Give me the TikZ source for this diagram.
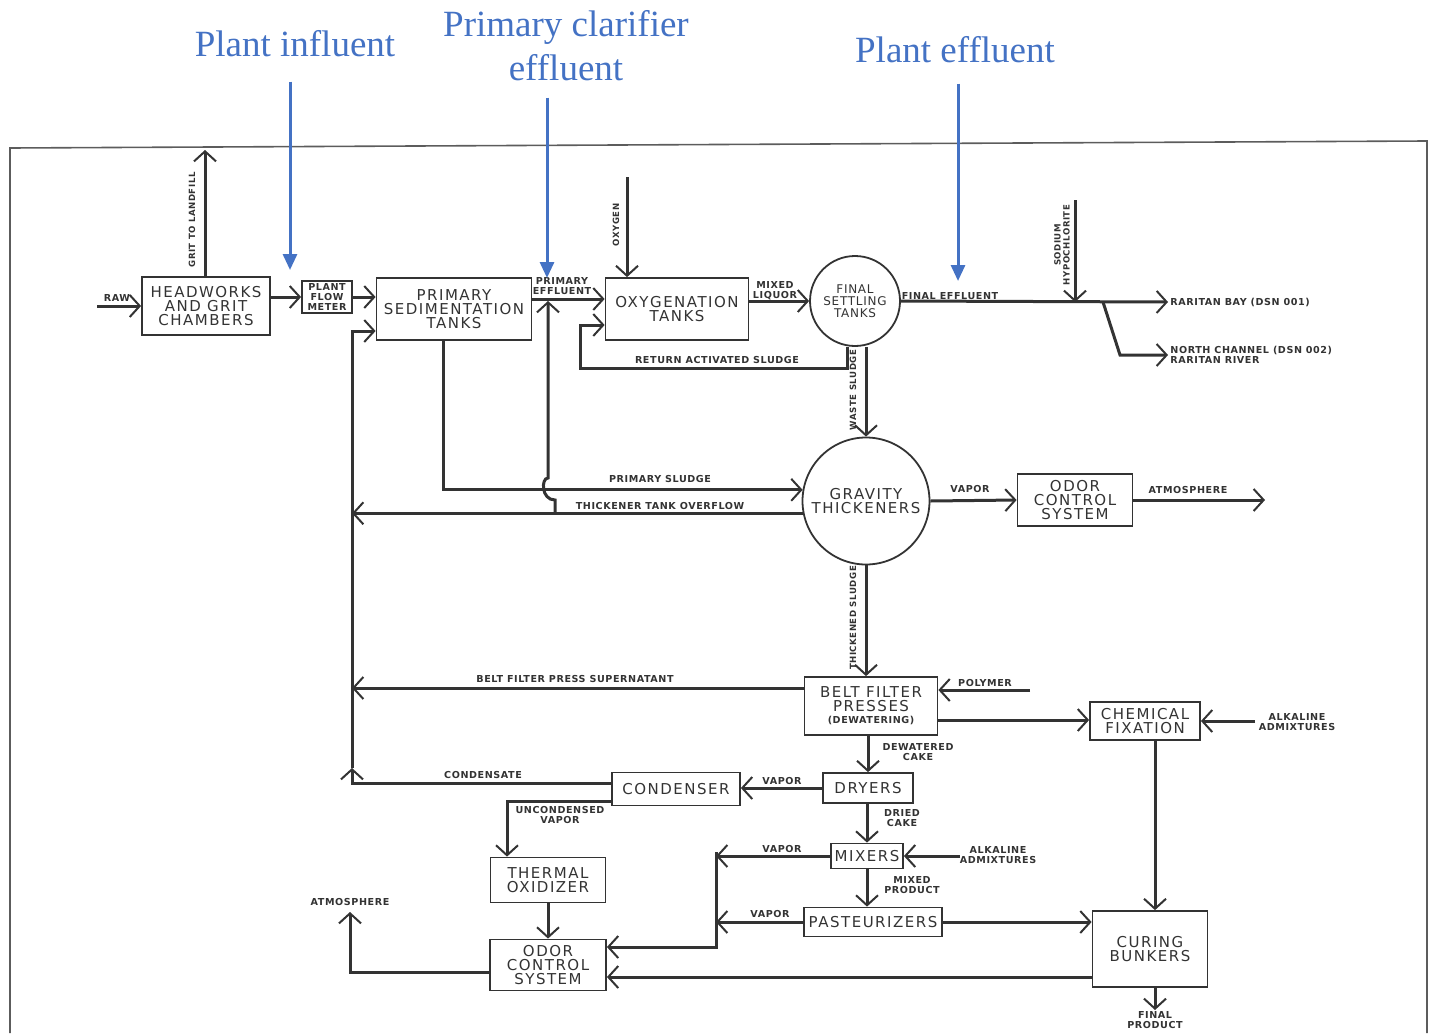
\documentclass[tikz,border=0pt]{standalone}
\usepackage{fontspec}
\usepackage{xcolor}
\usepackage{tikz}
\usetikzlibrary{arrows.meta}
\newfontfamily\boxfont[LetterSpace=10]{DejaVu Sans}
\newfontfamily\tagfont[LetterSpace=6]{DejaVu Sans}
\newfontfamily\notefont{Liberation Serif}
\definecolor{noteblue}{HTML}{4472C4}
\definecolor{ink}{HTML}{333333}

\tikzset{
  unit/.style={draw=ink, line width=0.9pt, inner sep=0pt, align=center, text=ink,
    font=\boxfont\fontsize{7.5}{7}\selectfont},
  tank/.style={unit, circle},
  flow/.style={draw=ink, line width=1.5pt,
    -{Straight Barb[length=5pt, width=11pt, line width=1pt]}},
  tag/.style={inner sep=1pt, align=center, text=ink,
    font=\tagfont\bfseries\fontsize{4.8}{5}\selectfont},
  note/.style={inner sep=0pt, align=center, text=noteblue,
    font=\notefont\fontsize{18.5}{22}\selectfont},
  pointer/.style={draw=noteblue, line width=1.5pt, -{Triangle[length=8pt, width=7pt]}}
}

\begin{document}
\begin{tikzpicture}[x=0.5pt, y=-0.5pt]
  \useasboundingbox (0,0) rectangle (1433,1033);
  \draw[ink!80, line width=0.8pt] (10,1033) -- (10,148) -- (1427,141) -- (1427,1033);

  % process units
  \node[unit, minimum width=64pt, minimum height=29pt] (head) at (206,306) {HEADWORKS\\AND GRIT\\CHAMBERS};
  \node[unit, tag, draw=ink, line width=0.9pt, minimum width=25pt, minimum height=16pt] (meter) at (327,297) {PLANT\\FLOW\\METER};
  \node[unit, minimum width=77.5pt, minimum height=31pt] (primsed) at (454,309) {PRIMARY\\SEDIMENTATION\\TANKS};
  \node[unit, minimum width=71.5pt, minimum height=31pt] (oxy) at (677,309) {OXYGENATION\\TANKS};
  \node[tank, minimum size=45pt, font=\tagfont\fontsize{6}{6}\selectfont] (fst) at (855,301) {FINAL\\SETTLING\\TANKS};
  \node[tank, minimum size=63.5pt] (grav) at (866,501) {GRAVITY\\THICKENERS};
  \node[unit, minimum width=57.5pt, minimum height=26pt] (odora) at (1075,500) {ODOR\\CONTROL\\SYSTEM};
  \node[unit, minimum width=66.5pt, minimum height=29pt] (belt) at (871,706) {BELT FILTER\\PRESSES\\[-1pt]{\tagfont\bfseries\fontsize{4.8}{5}\selectfont(DEWATERING)}};
  \node[unit, minimum width=55pt, minimum height=19pt] (chem) at (1145,721) {CHEMICAL\\FIXATION};
  \node[unit, minimum width=64pt, minimum height=16.5pt] (cond) at (676,789) {CONDENSER};
  \node[unit, minimum width=45pt, minimum height=15pt] (dryers) at (868,788) {DRYERS};
  \node[unit, minimum width=57.5pt, minimum height=22.5pt] (thermal) at (548,880) {THERMAL\\OXIDIZER};
  \node[unit, minimum width=36pt, minimum height=12.5pt] (mixers) at (867,856) {MIXERS};
  \node[unit, minimum width=69pt, minimum height=14.5pt] (past) at (873,922) {PASTEURIZERS};
  \node[unit, minimum width=57.5pt, minimum height=38pt] (curing) at (1150,949) {CURING\\BUNKERS};
  \node[unit, minimum width=58pt, minimum height=25.5pt] (odorb) at (548,965) {ODOR\\CONTROL\\SYSTEM};

  \node[tag, anchor=west] (bay) at (1168,302) {RARITAN BAY (DSN 001)};
  \node[tag, anchor=west, align=left] (river) at (1168,355) {NORTH CHANNEL (DSN 002)\\RARITAN RIVER};

  \coordinate (rawin) at (97,306);
  \coordinate (landfill) at (205,150);
  \coordinate (pe) at (548,299);
  \coordinate (o2) at (627,177);
  \coordinate (naocl) at (1075,200);
  \coordinate (split) at (1103,302);
  \coordinate (trunkt) at (352,331);
  \coordinate (trunkc) at (352,768);
  \coordinate (atma) at (1265,500);
  \coordinate (poly) at (1030,690);
  \coordinate (alka) at (1255,721);
  \coordinate (alkb) at (960,856);
  \coordinate (vcol) at (716,852);
  \coordinate (atmb) at (350,912);
  \coordinate (prod) at (1155,1010);

  % liquid train
  \draw[flow] (rawin) -- (rawin -| head.west);
  \draw[flow] (head.north -| landfill) -- (landfill);
  \draw[flow] (head.east |- meter.west) -- (meter.west);
  \draw[flow] (meter.east) -- (meter.east -| primsed.west);
  \draw[flow] (primsed.east |- pe) -- (oxy.west |- pe);
  \draw[flow] (o2) -- (o2 |- oxy.north);
  \draw[flow] (oxy.east |- fst.west) -- (fst.west);
  \draw[flow] (fst.east) -- (bay.west);
  \draw[flow] (naocl) -- (naocl |- bay.west);
  \draw[flow] (split) -- ++(17,53) -- (river.west |- 0,355);
  \draw[flow] ([xshift=-4pt]fst.south) |- (580,368) |- ([yshift=-8pt]oxy.west);

  % sludge train
  \draw[flow] (fst.south -| grav.north) -- (grav.north);
  \draw[flow] ([xshift=-5.5pt]primsed.south) |- (grav.170);
  \draw[flow] (grav.191) -- (grav.191 -| trunkt);
  \draw[flow] (555,513) -- (555,500) .. controls (541,500) and (541,478) .. (548,478) -- ([yshift=-1pt]pe);
  \draw[flow] (trunkc) -- (trunkt) -- (trunkt -| primsed.west);
  \draw[flow] (grav.east) -- (odora.west);
  \draw[flow] (odora.east) -- (atma);
  \draw[flow] (grav.south) -- (grav.south |- belt.north);
  \draw[flow] ([yshift=9pt]belt.west) -- ([yshift=9pt]belt.west -| trunkt);
  \draw[flow] (poly) -- (poly -| belt.east);
  \draw[flow] ([yshift=-7pt]belt.east) -- ([yshift=-7pt]belt.east -| chem.west);
  \draw[flow] (alka) -- (chem.east);
  \draw[flow] ([xshift=5pt]chem.south) -- ([xshift=5pt]chem.south |- curing.north);
  \draw[flow] (belt.south -| dryers.north) -- (dryers.north);
  \draw[flow] (dryers.west) -- (dryers.west -| cond.east);
  \draw[flow] ([yshift=3pt]cond.west) -| (trunkc);
  \draw[flow] ([yshift=-6pt]cond.west) -| ([xshift=-20.5pt]thermal.north);
  \draw[flow] (dryers.south -| mixers.north) -- (mixers.north);
  \draw[flow] (mixers.west) -- (mixers.west -| vcol);
  \draw[flow] (alkb) -- (mixers.east);
  \draw[flow] (mixers.south) -- (mixers.south |- past.north);
  \draw[flow] (past.west) -- (past.west -| vcol);
  \draw[flow] (vcol) |- ([yshift=9pt]odorb.east);
  \draw[flow] (past.east) -- (past.east -| curing.west);
  \draw[flow] ([yshift=-14pt]curing.west) -- ([yshift=-14pt]curing.west -| odorb.east);
  \draw[flow] (thermal.south) -- (odorb.north);
  \draw[flow] ([yshift=-3.5pt]odorb.west) -| (atmb);
  \draw[flow] (curing.south -| prod) -- (prod);

  % stream labels
  \foreach \x/\y/\txt [count=\i] in {117/298/RAW, 562/286/{PRIMARY\\EFFLUENT},
      775/291/{MIXED\\LIQUOR}, 950/296/{FINAL EFFLUENT}, 717/360/{RETURN ACTIVATED SLUDGE},
      660/479/{PRIMARY SLUDGE}, 660/506/{THICKENER TANK OVERFLOW}, 970/489/VAPOR,
      1188/490/ATMOSPHERE, 575/679/{BELT FILTER PRESS SUPERNATANT}, 985/683/POLYMER,
      1297/722/{ALKALINE\\ADMIXTURES}, 918/752/{DEWATERED\\CAKE}, 782/781/VAPOR,
      483/775/CONDENSATE, 560/815/{UNCONDENSED\\VAPOR}, 902/818/{DRIED\\CAKE},
      782/849/VAPOR, 998/855/{ALKALINE\\ADMIXTURES}, 912/885/{MIXED\\PRODUCT},
      770/914/VAPOR, 350/902/ATMOSPHERE, 1155/1020/{FINAL\\PRODUCT}}
    \node[tag] (lab\i) at (\x,\y) {\txt};
  \foreach \x/\y/\txt [count=\i] in {192/220/{GRIT TO LANDFILL}, 616/225/OXYGEN,
      1062/245/{SODIUM\\HYPOCHLORITE}, 853/390/{WASTE SLUDGE}, 853/618/{THICKENED SLUDGE}}
    \node[tag, rotate=90, font=\tagfont\bfseries\fontsize{4.3}{4.6}\selectfont] (vlab\i) at (\x,\y) {\txt};

  % sampling points
  \node[note] (ninf) at (295,44) {Plant influent};
  \node[note] (nprim) at (566,46) {Primary clarifier\\effluent};
  \node[note] (neff) at (955,50) {Plant effluent};
  \coordinate (pinf) at (290,270);
  \coordinate (pprim) at (547,278);
  \coordinate (peff) at (958,281);
  \draw[pointer, shorten <=12pt] (ninf.south -| pinf) -- (pinf);
  \draw[pointer, shorten <=8pt] (nprim.south -| pprim) -- (pprim);
  \draw[pointer, shorten <=10pt] (neff.south -| peff) -- (peff);
\end{tikzpicture}
\end{document}
